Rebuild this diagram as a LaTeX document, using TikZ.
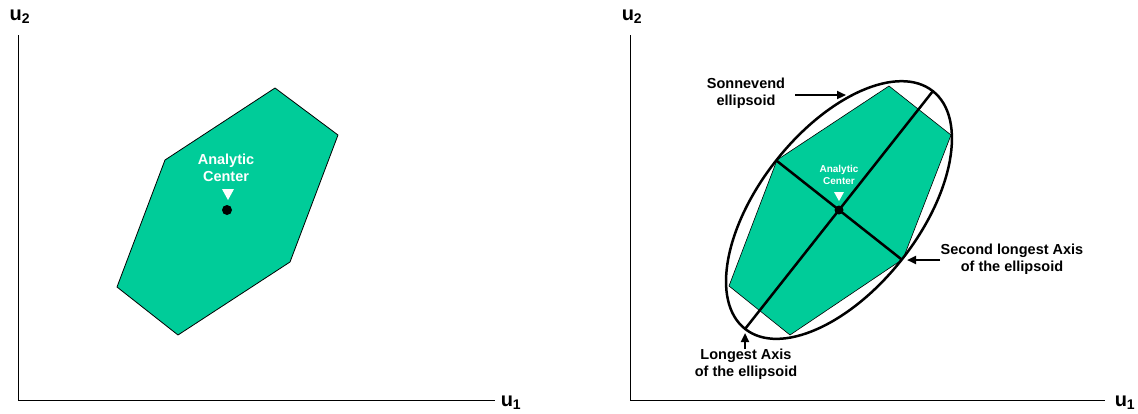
\documentclass[tikz,border=0pt]{standalone}
\usepackage{fontspec}
\setmainfont{Liberation Sans}
\usetikzlibrary{arrows.meta,calc}
\definecolor{poly}{RGB}{0,204,153}
\begin{document}
\begin{tikzpicture}[x=1pt,y=-1pt,
  axis/.style={line width=1pt},
  lbl/.style={font=\bfseries\fontsize{14.5}{17.5}\selectfont, align=center, inner sep=0pt},
  small/.style={font=\bfseries\fontsize{10}{11.5}\selectfont, align=center, inner sep=0pt, text=white},
  ulbl/.style={font=\bfseries\fontsize{20}{20}\selectfont, inner sep=0pt},
  ptr/.style={line width=2.2pt, -{Triangle[length=9pt,width=8pt]}}]
\useasboundingbox (0,0) rectangle (1138,413);
% ---------- left panel ----------
\coordinate (LO) at (18,400);
\coordinate (LY) at (18,35);
\coordinate (LX) at (495,400);
\draw[axis] (LY) -- (LO) -- (LX);
\node[ulbl] (lu2) at (20,17) {u\textsubscript{2}};
\node[ulbl] (lu1) at (511,403) {u\textsubscript{1}};
\draw[fill=poly, line width=0.8pt] (275,88) -- (338,135) -- (290,262) -- (178,335) -- (117,287) -- (165,160) -- cycle;
\node[lbl, text=white] (lac) at (226,168) {Analytic\\Center};
\fill[white] (222,189) -- (234,189) -- (228,200) -- cycle;
\fill[black] (227,210) circle (5pt);
% ---------- right panel ----------
\coordinate (RO) at (630,400);
\coordinate (RY) at (630,35);
\coordinate (RX) at (1105,400);
\draw[axis] (RY) -- (RO) -- (RX);
\node[ulbl] (ru2) at (632,17) {u\textsubscript{2}};
\node[ulbl] (ru1) at (1125,403) {u\textsubscript{1}};
\draw[fill=poly, line width=0.6pt] (889,86) -- (951,135) -- (903,259) -- (790,335) -- (729,286) -- (777,160) -- cycle;
\coordinate (C) at (839,210);
\draw[line width=2.5pt, rotate around={51.7:(C)}] (C) ellipse [x radius=151.5pt, y radius=80pt];
\coordinate (A1) at ($(C)+(51.7:151.5pt)$);
\coordinate (A2) at ($(C)+(231.7:151.5pt)$);
\coordinate (B1) at ($(C)+(141.7:80pt)$);
\coordinate (B2) at ($(C)+(-38.3:80pt)$);
\draw[line width=2.5pt] (A1) -- (A2);
\draw[line width=2.5pt] (B1) -- (B2);
\fill[black] (C) circle (4.5pt);
\node[small] (rac) at (839,175) {Analytic\\Center};
\fill[white] (834,192) -- (844,192) -- (839,201) -- cycle;
% labels with pointers
\node[lbl] (son) at (746,93) {Sonnevend\\ellipsoid};
\coordinate (sonS) at (795,95);
\coordinate (sonT) at (846,95);
\draw[ptr] (sonS) -- (sonT);
\node[lbl] (sec) at (1012,259) {Second longest Axis\\of the ellipsoid};
\coordinate (secS) at (940,260);
\coordinate (secT) at (907,260);
\draw[ptr] (secS) -- (secT);
\node[lbl] (lon) at (746,364) {Longest Axis\\of the ellipsoid};
\coordinate (lonS) at (745,349);
\coordinate (lonT) at (745,333);
\draw[ptr] (lonS) -- (lonT);
\end{tikzpicture}
\end{document}
